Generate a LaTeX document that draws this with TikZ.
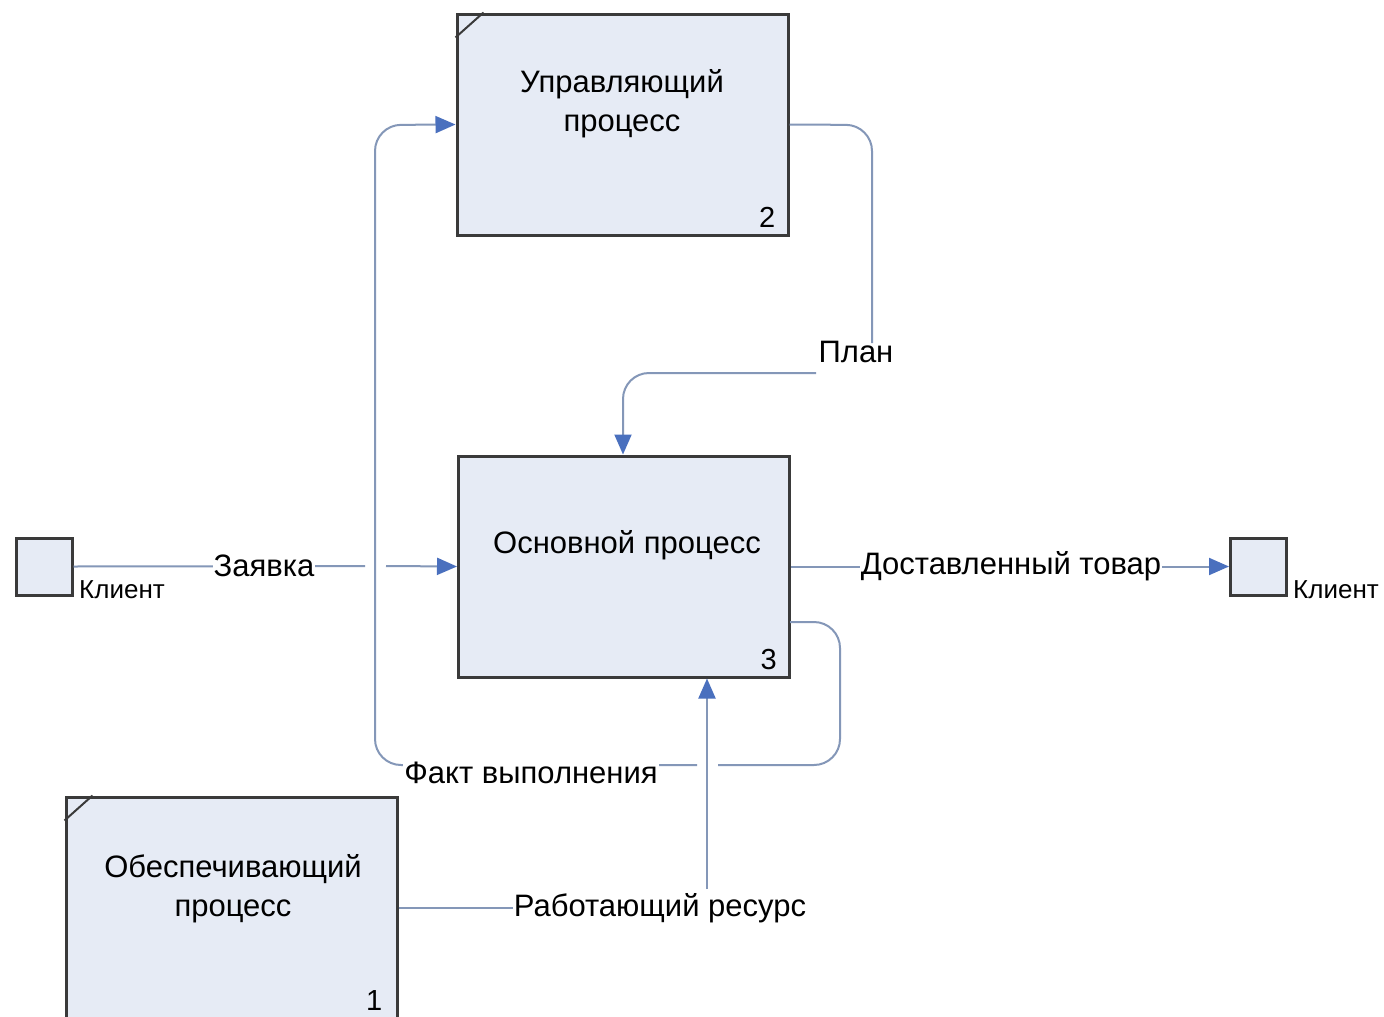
\documentclass[tikz,border=0pt]{standalone}
\usepackage{fontspec}
\setmainfont{Liberation Sans}
\usetikzlibrary{arrows.meta}
\definecolor{boxfill}{HTML}{E6EBF5}
\definecolor{boxline}{HTML}{3A3A3A}
\definecolor{flowc}{HTML}{8497B8}
\definecolor{tipc}{HTML}{4A70BE}
\begin{document}
\begin{tikzpicture}[x=1pt,y=-1pt,
 proc/.style={draw=boxline, line width=3pt, fill=boxfill, minimum width=331pt, minimum height=221pt, inner sep=0pt},
 ext/.style={draw=boxline, line width=3pt, fill=boxfill, minimum width=56pt, minimum height=57pt, inner sep=0pt},
 flow/.style={draw=flowc, line width=2pt, rounded corners=26pt},
 arr/.style={-{Triangle[length=20pt,width=17pt,color=tipc]}},
 lbl/.style={font=\fontsize{31}{36}\selectfont, fill=white, inner sep=1pt},
 ttl/.style={font=\fontsize{31}{39}\selectfont, align=center},
 num/.style={font=\fontsize{29}{30}\selectfont, anchor=south east, inner sep=0pt},
 small/.style={font=\fontsize{26}{28}\selectfont, anchor=west, inner sep=0pt}
]
\useasboundingbox (0,0) rectangle (1384,1017);
\clip (0,0) rectangle (1384,1017);
\fill[white] (0,0) rectangle (1384,1017);

% process boxes
\node[proc] (b2) at (622.5,124.5) {};
\node[proc] (b3) at (624,566.5) {};
\node[proc] (b1) at (231.5,907.5) {};
\draw[boxline, line width=2pt] (b2.north west) ++(0,25) -- ++(28,-25);
\draw[boxline, line width=2pt] (b1.north west) ++(0,25) -- ++(28,-25);
\node[ttl] (t2) at (622,104) {Управляющий\\процесс};
\node[ttl] (t3) at (627,545) {Основной процесс};
\node[ttl] (t1) at (233,889) {Обеспечивающий\\процесс};
\node[num] (n2) at ([xshift=-14pt,yshift=9pt]b2.south east) {2};
\node[num] (n3) at ([xshift=-14pt,yshift=9pt]b3.south east) {3};
\node[num] (n1) at ([xshift=-16pt,yshift=9pt]b1.south east) {1};

% external squares
\node[ext] (k1) at (44,566.5) {};
\node[ext] (k2) at (1258.5,566.5) {};
\node[small] (kl1) at (79,590) {Клиент};
\node[small] (kl2) at (1293,590) {Клиент};

% Заявка
\coordinate (zg1) at (365,566);
\coordinate (zg2) at (386,566);
\draw[flow] (k1.east) -- (zg1);
\draw[flow, arr] (zg2) -- (b3.west);
\node[lbl] (lz) at (264,566) {Заявка};

% Доставленный товар
\draw[flow, arr] (b3.east) -- (k2.west);
\node[lbl] (ld) at (1011,566) {Доставленный товар};

% План
\coordinate (p0) at (b2.east);
\coordinate (p1) at (872,125);
\coordinate (p2) at (872,343);
\coordinate (p3) at (816,373);
\coordinate (p4) at (623,373);
\draw[flow] (p0) -- (p1) -- (p2);
\draw[flow, arr] (p3) -- (p4) -- (b3.north -| p4);
\node[lbl, fill=none] (lp) at (856,352) {План};

% Факт выполнения (feedback)
\coordinate (f0) at (790,622);
\coordinate (f1) at (840,622);
\coordinate (f2) at (840,765);
\coordinate (f3) at (718,765);
\coordinate (f4) at (697,765);
\coordinate (f5) at (375,765);
\coordinate (f6) at (375,125);
\draw[flow] (f0) -- (f1) -- (f2) -- (f3);
\draw[flow, arr] (f4) -- (f5) -- (f6) -- (b2.west);
\node[lbl] (lf) at (531,773) {Факт выполнения};

% Работающий ресурс
\node[lbl] (lr) at (660,908) {Работающий ресурс};
\coordinate (r1) at (707,889);
\draw[flow] (b1.east |- lr.west) -- (lr.west);
\draw[flow, arr] (r1) -- (b3.south -| r1);
\end{tikzpicture}
\end{document}
